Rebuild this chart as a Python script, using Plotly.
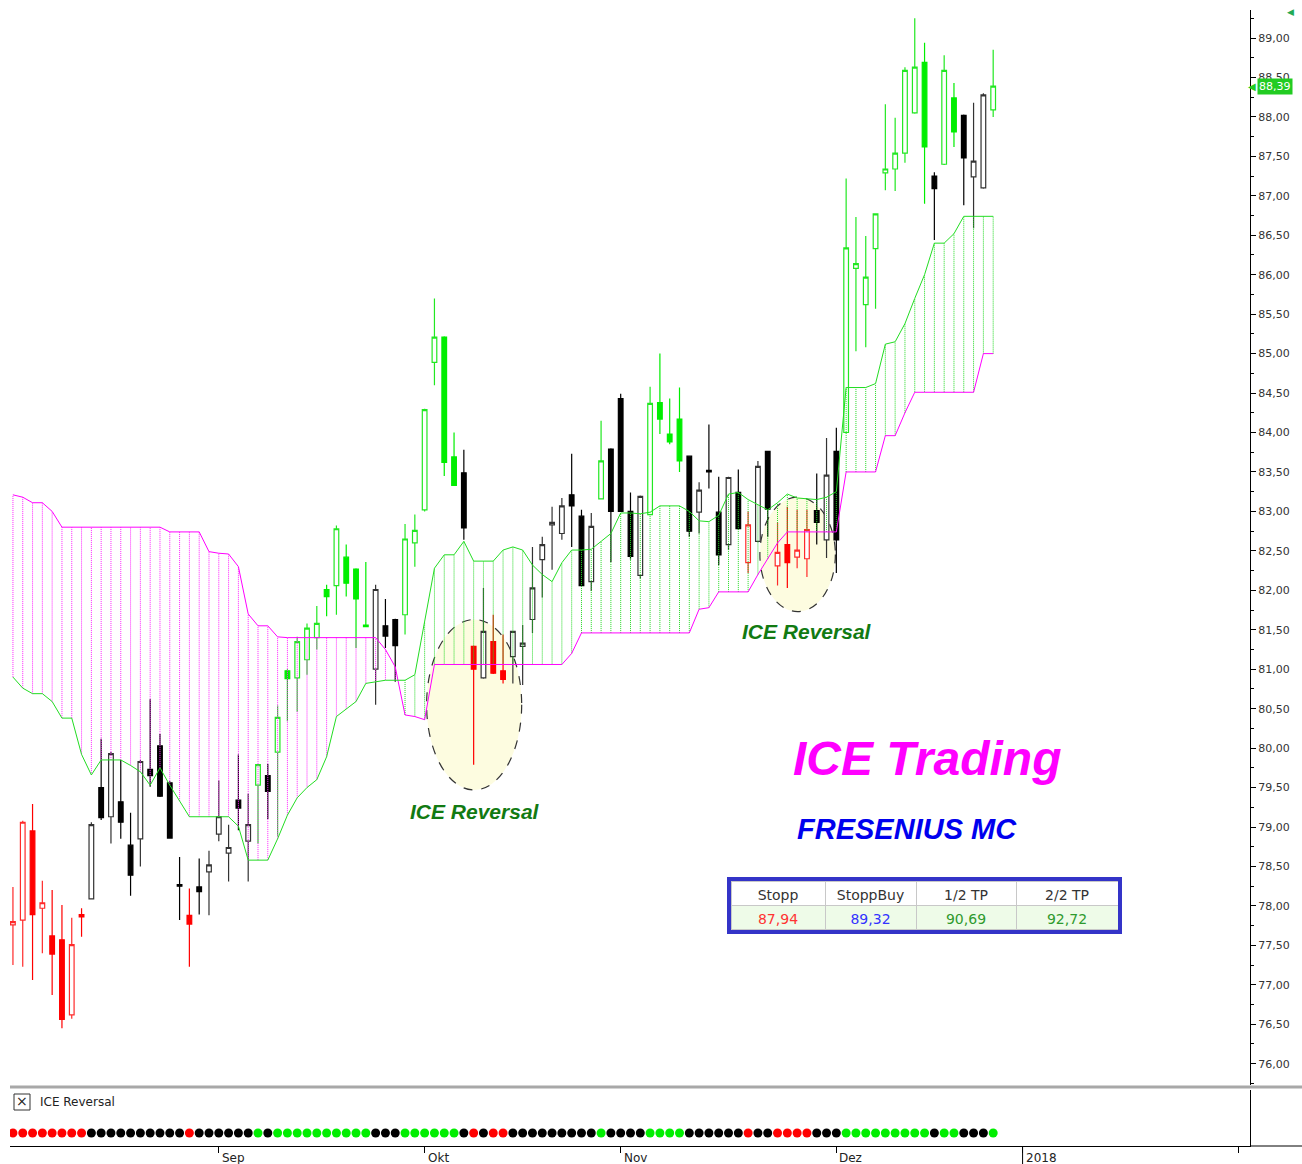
import plotly.graph_objects as go
import pandas as pd

W, H = 1302, 1164

# ---------------- data ----------------
first_day = "2017-08-03"
holidays = ["2017-10-03", "2017-10-31", "2017-12-25", "2017-12-26", "2018-01-01"]

opens = [77.76, 77.82, 78.95, 77.97, 77.62, 77.57, 76.62, 77.89, 78.09, 79.50,
         79.13, 79.32, 78.77, 78.85, 79.73, 80.03, 79.56, 78.27, 77.88, 78.24,
         78.43, 78.91, 78.67, 79.34, 78.82, 79.53, 79.65, 79.95, 80.98, 80.89,
         81.12, 81.40, 82.01, 82.06, 82.42, 82.27, 81.56, 81.00, 81.55, 81.63,
         81.69, 82.60, 83.02, 84.89, 85.21, 83.69, 83.49, 81.29, 80.89, 81.35,
         80.98, 81.16, 81.29, 81.63, 82.39, 82.83, 82.72, 83.21, 82.94, 82.11,
         83.16, 83.79, 84.43, 83.00, 82.19, 82.96, 84.38, 83.98, 84.17, 83.70,
         82.99, 83.52, 82.99, 82.58, 83.24, 82.35, 82.62, 83.76, 82.31, 82.58,
         82.42, 82.40, 83.01, 82.64, 83.76, 84.00, 86.08, 85.62, 86.33, 87.29,
         87.34, 87.54, 88.05, 88.69, 87.25, 87.40, 88.24, 88.02, 87.24, 87.10,
         88.09]
highs = [78.24, 79.08, 79.29, 78.32, 78.20, 78.01, 77.85, 77.97, 79.06, 80.12,
         79.95, 79.85, 79.18, 79.85, 80.62, 80.18, 79.58, 78.62, 78.22, 78.60,
         78.70, 79.59, 79.03, 79.92, 79.42, 79.80, 79.80, 80.54, 81.00, 81.41,
         81.58, 81.80, 82.07, 82.82, 82.58, 82.28, 82.36, 82.07, 81.89, 81.64,
         82.84, 82.96, 84.30, 85.70, 85.22, 84.00, 83.78, 81.30, 82.03, 81.69,
         81.44, 81.48, 81.56, 82.55, 82.68, 83.06, 83.17, 83.73, 83.02, 82.98,
         84.15, 83.80, 84.49, 83.24, 83.20, 84.58, 85.00, 84.43, 84.57, 83.71,
         83.37, 84.10, 83.44, 83.44, 83.53, 83.00, 83.64, 83.77, 82.86, 83.06,
         83.02, 83.02, 83.48, 83.93, 84.06, 87.22, 86.73, 86.49, 86.78, 88.16,
         87.99, 88.63, 89.25, 88.94, 87.30, 88.78, 88.43, 88.03, 88.18, 88.30,
         88.85]
lows = [77.25, 77.23, 77.06, 77.40, 76.87, 76.45, 76.57, 77.61, 78.08, 79.09,
        78.79, 78.85, 78.13, 78.50, 79.51, 79.38, 78.85, 77.82, 77.23, 77.89,
        77.88, 78.82, 78.31, 78.96, 78.31, 78.79, 79.10, 78.89, 80.34, 80.46,
        80.93, 81.25, 81.67, 81.69, 81.92, 81.27, 81.54, 80.55, 81.27, 80.84,
        81.44, 82.30, 83.00, 84.60, 83.45, 83.33, 82.64, 79.79, 80.88, 80.94,
        80.82, 80.82, 80.80, 81.46, 81.91, 82.26, 82.64, 82.55, 82.06, 81.99,
        83.16, 82.36, 83.00, 82.39, 82.15, 82.95, 83.98, 83.85, 83.50, 82.68,
        82.72, 83.29, 82.32, 82.51, 82.77, 82.22, 82.61, 82.68, 82.06, 82.03,
        82.28, 82.17, 82.58, 82.41, 82.22, 83.99, 85.03, 85.08, 85.57, 87.07,
        87.06, 87.42, 88.04, 86.90, 86.44, 87.39, 87.62, 86.88, 86.59, 87.09,
        88.00]
closes = [77.80, 79.06, 77.89, 78.04, 77.39, 76.56, 77.51, 77.86, 79.03, 79.12,
          79.93, 79.06, 78.39, 79.83, 79.65, 79.39, 78.86, 78.25, 77.77, 78.18,
          78.52, 79.13, 78.74, 79.24, 79.03, 79.79, 79.45, 80.39, 80.88, 81.35,
          81.52, 81.58, 81.92, 82.78, 82.09, 81.89, 81.54, 82.01, 81.42, 81.30,
          82.65, 82.76, 84.29, 85.21, 83.62, 83.33, 82.79, 81.00, 81.48, 80.95,
          80.87, 81.48, 81.33, 82.03, 82.58, 82.86, 83.07, 83.07, 82.06, 82.81,
          83.64, 83.00, 83.00, 82.43, 83.19, 84.37, 84.17, 83.88, 83.64, 82.75,
          83.27, 83.50, 82.45, 83.43, 82.78, 82.83, 83.57, 83.03, 82.48, 82.35,
          82.51, 82.77, 82.86, 83.46, 82.64, 86.34, 86.14, 85.97, 86.77, 87.34,
          87.54, 88.59, 88.63, 87.62, 87.09, 88.59, 87.81, 87.48, 87.44, 88.28,
          88.39]

# ICE Reversal signal per bar: r = red, k = black (neutral), g = green
signal = ("rrrrrrrr" "kkkkkkkkkk" "r" "kkkkkk" "g" "k" "gggggggggg" "kkk"
          "gggggg" "k" "r" "k" "rr" "kkkkkkkkk" "g" "kkkk" "gggg" "kkkkkk"
          "r" "kk" "rrrr" "kkk" "ggggggggg" "k" "gg" "kkk" "g")

span_a = [80.90, 80.76, 80.69, 80.69, 80.59, 80.38, 80.38, 79.92, 79.66, 79.85,
          79.85, 79.85, 79.78, 79.70, 79.53, 79.75, 79.53, 79.33, 79.13, 79.13,
          79.13, 79.13, 79.13, 79.01, 78.58, 78.58, 78.58, 78.85, 79.15, 79.37,
          79.50, 79.60, 79.89, 80.40, 80.50, 80.59, 80.82, 80.84, 80.86, 80.86,
          80.86, 80.93, 81.60, 82.28, 82.45, 82.45, 82.62, 82.37, 82.37, 82.37,
          82.51, 82.55, 82.51, 82.32, 82.20, 82.11, 82.35, 82.51, 82.51, 82.52,
          82.62, 82.72, 82.98, 82.98, 82.97, 82.99, 83.07, 83.07, 83.07, 83.00,
          82.88, 82.87, 82.95, 83.22, 83.24, 83.15, 83.08, 83.02, 83.11, 83.22,
          83.17, 83.16, 83.15, 83.18, 83.25, 84.57, 84.57, 84.57, 84.62, 85.12,
          85.15, 85.38, 85.70, 86.00, 86.40, 86.40, 86.52, 86.74, 86.74, 86.74,
          86.74]
span_b = [83.21, 83.18, 83.11, 83.11, 83.00, 82.80, 82.80, 82.80, 82.80, 82.80,
          82.80, 82.80, 82.80, 82.80, 82.80, 82.80, 82.74, 82.74, 82.74, 82.74,
          82.49, 82.47, 82.46, 82.30, 81.70, 81.55, 81.55, 81.41, 81.40, 81.40,
          81.40, 81.40, 81.40, 81.40, 81.40, 81.40, 81.40, 81.40, 81.25, 81.03,
          80.42, 80.40, 80.36, 81.06, 81.06, 81.06, 81.06, 81.06, 81.06, 81.06,
          81.06, 81.06, 81.06, 81.06, 81.06, 81.06, 81.06, 81.20, 81.46, 81.46,
          81.46, 81.46, 81.46, 81.46, 81.46, 81.46, 81.46, 81.46, 81.46, 81.46,
          81.76, 81.78, 81.98, 81.98, 81.98, 81.98, 82.20, 82.40, 82.60, 82.74,
          82.74, 82.74, 82.74, 82.74, 82.74, 83.50, 83.50, 83.50, 83.50, 83.96,
          83.96, 84.25, 84.51, 84.51, 84.51, 84.51, 84.51, 84.51, 84.51, 85.00,
          85.00]

month_starts = ["2017-09-01", "2017-10-02", "2017-11-01", "2017-12-01", "2018-01-02", "2018-02-01"]
month_labels = ["Sep", "Okt", "Nov", "Dez", "2018", ""]
year_start = "2018-01-02"

table_header = ["Stopp", "StoppBuy", "1/2 TP", "2/2 TP"]
table_values = ["87,94", "89,32", "90,69", "92,72"]
last_price = 88.39

# ---------------- helpers ----------------
n = len(closes)
assert len(signal) == n == len(opens) == len(highs) == len(lows) == len(span_a) == len(span_b)

days = pd.bdate_range(first_day, "2018-03-31")
days = [d for d in days if d.strftime("%Y-%m-%d") not in holidays]
day_index = {d.strftime("%Y-%m-%d"): i for i, d in enumerate(days)}
xs = list(range(n))
month_idx = [day_index[m] for m in month_starts]


def px(x):
    return x / W


def py(y):
    return 1 - y / H


X_DOMAIN = [px(10), px(1250)]
X_RANGE = [-0.3, 126.2]

fig = go.Figure()

# ---------------- cloud hatching ----------------
hx_m, hy_m, hx_g, hy_g = [], [], [], []
for i in xs:
    a, b = span_a[i], span_b[i]
    if b > a:
        hx_m += [i, i, None]
        hy_m += [a, b, None]
    else:
        hx_g += [i, i, None]
        hy_g += [b, a, None]

fig.add_trace(go.Scatter(x=hx_m, y=hy_m, mode="lines",
                         line=dict(color="#ff22ff", width=1, dash="1px,1px"),
                         hoverinfo="skip"))
fig.add_trace(go.Scatter(x=hx_g, y=hy_g, mode="lines",
                         line=dict(color="#22d822", width=1, dash="1px,1px"),
                         hoverinfo="skip"))

fig.add_trace(go.Scatter(x=xs, y=span_b, mode="lines",
                         line=dict(color="#ff00ff", width=1), hoverinfo="skip"))
fig.add_trace(go.Scatter(x=xs, y=span_a, mode="lines",
                         line=dict(color="#22dd22", width=1), hoverinfo="skip"))

# ---------------- candles ----------------
styles = {
    "r": dict(up="#ff2a2a", down="#ff0000"),
    "k": dict(up="#333333", down="#000000"),
    "g": dict(up="#22e822", down="#00ee00"),
}
for code, st in styles.items():
    idx = [i for i in xs if signal[i] == code]
    fig.add_trace(go.Candlestick(
        x=idx,
        open=[opens[i] for i in idx], high=[highs[i] for i in idx],
        low=[lows[i] for i in idx], close=[closes[i] for i in idx],
        increasing=dict(line=dict(color=st["up"], width=1.2), fillcolor="white"),
        decreasing=dict(line=dict(color=st["down"], width=1.2), fillcolor=st["down"]),
        whiskerwidth=0, hoverinfo="skip", showlegend=False,
    ))

# ---------------- lower panel: ICE Reversal dots ----------------
dot_colors = {"r": "#ff0000", "k": "#000000", "g": "#00ee00"}
fig.add_trace(go.Scatter(
    x=xs, y=[0] * n, mode="markers", xaxis="x2", yaxis="y2",
    marker=dict(size=9, color=[dot_colors[c] for c in signal], line=dict(width=0)),
    hoverinfo="skip"))

# ---------------- table ----------------
fig.add_trace(go.Table(
    domain=dict(x=[px(731), px(1118)], y=[py(932), py(881)]),
    columnwidth=[94, 91, 100, 102],
    header=dict(values=table_header, fill_color="white", line_color="#c8c8c8",
                font=dict(family="DejaVu Sans", size=14, color="#333333"),
                height=24, align="center"),
    cells=dict(values=[[v] for v in table_values], fill_color="#eefbe8",
               line_color="#c8c8c8", height=24, align="center",
               font=dict(family="DejaVu Sans", size=14,
                         color=[["#ff3333"], ["#3333ff"], ["#2e9a2e"], ["#2e9a2e"]])),
))

# ---------------- shapes ----------------
shapes = [
    dict(type="circle", xref="x", yref="y", x0=42.2, x1=51.9, y0=79.47, y1=81.63,
         fillcolor="#fdfce0", line=dict(color="#333333", width=1.2, dash="dash"), layer="below"),
    dict(type="circle", xref="x", yref="y", x0=76.2, x1=83.9, y0=81.73, y1=83.18,
         fillcolor="#fdfce0", line=dict(color="#333333", width=1.2, dash="dash"), layer="below"),
    dict(type="line", xref="paper", yref="paper", x0=px(10), x1=1, y0=py(1087), y1=py(1087),
         line=dict(color="#a8a8a8", width=3)),
    dict(type="line", xref="paper", yref="paper", x0=px(1250), x1=1, y0=py(1146), y1=py(1146),
         line=dict(color="#000000", width=1)),
    dict(type="line", xref="x2", yref="paper", x0=day_index[year_start], x1=day_index[year_start],
         y0=py(1146), y1=0, line=dict(color="#000000", width=1)),
    dict(type="rect", xref="paper", yref="paper", x0=px(729), x1=px(1120), y0=py(932), y1=py(879),
         line=dict(color="#3434c8", width=4), fillcolor="rgba(0,0,0,0)", layer="above"),
    # checkbox frame of the lower panel title
    dict(type="rect", xref="paper", yref="paper", x0=px(14), x1=px(30), y0=py(1110), y1=py(1094),
         line=dict(color="#333333", width=1), fillcolor="white"),
]

# ---------------- annotations ----------------
ann = []


def text_at(cx, cy, text, font, xanchor="center", **kw):
    d = dict(x=px(cx), y=py(cy), xref="paper", yref="paper", showarrow=False,
             xanchor=xanchor, yanchor="middle", text=text, font=font)
    d.update(kw)
    ann.append(d)


for cx, cy in [(475, 811), (807, 631)]:
    text_at(cx, cy, "<b><i>ICE Reversal</i></b>",
            dict(family="Liberation Sans", size=21, color="#127a12"))
text_at(927, 758, "<b><i>ICE Trading</i></b>",
        dict(family="Liberation Sans", size=48, color="#ff00ff"))
text_at(907, 829, "<b><i>FRESENIUS MC</i></b>",
        dict(family="Liberation Sans", size=29, color="#0000ee"))
# lower panel title
text_at(22, 1101, "×", dict(family="DejaVu Sans", size=14, color="#222222"))
text_at(38, 1102, "ICE Reversal", dict(family="DejaVu Sans", size=12, color="#222222"),
        xanchor="left")
# month labels
for mi, lab in zip(month_idx, month_labels):
    if lab:
        ann.append(dict(x=mi, y=py(1158), xref="x2", yref="paper", showarrow=False,
                        xanchor="left", yanchor="middle", xshift=1, text=lab,
                        font=dict(family="DejaVu Sans", size=12, color="#222222")))
# last price tag
ann.append(dict(x=px(1257), y=last_price, xref="paper", yref="y", showarrow=False,
                xanchor="left", yanchor="middle", text=f"{last_price:.2f}".replace(".", ","),
                bgcolor="#22cc22", borderpad=1,
                font=dict(family="DejaVu Sans", size=11, color="white")))
ann.append(dict(x=px(1258), y=last_price, xref="paper", yref="y", showarrow=False,
                xanchor="right", yanchor="middle", text="◀",
                font=dict(family="DejaVu Sans", size=10, color="#22cc22")))
text_at(1290, 12, "◀", dict(family="DejaVu Sans", size=9, color="#22aa55"))

fig.update_layout(
    width=W, height=H, margin=dict(l=0, r=0, t=0, b=0),
    paper_bgcolor="white", plot_bgcolor="white",
    showlegend=False, hovermode=False, separators=",.",
    boxgap=0.32,
    shapes=shapes, annotations=ann,
    xaxis=dict(domain=X_DOMAIN, range=X_RANGE, anchor="y", showticklabels=False,
               showgrid=False, zeroline=False, showline=False, ticks="",
               rangeslider=dict(visible=False)),
    yaxis=dict(domain=[py(1085), py(10)], range=[75.73, 89.355], anchor="x", side="right",
               showline=True, linecolor="#000000", linewidth=1,
               ticks="outside", ticklen=5, tickcolor="#000000", tick0=76, dtick=0.5,
               tickformat=".2f", showgrid=False, zeroline=False,
               tickfont=dict(family="DejaVu Sans", size=11, color="#333333"),
               minor=dict(ticks="outside", ticklen=3, tickcolor="#000000", dtick=0.25, tick0=76)),
    xaxis2=dict(domain=X_DOMAIN, range=X_RANGE, anchor="y2", showticklabels=False,
                showgrid=False, zeroline=False, showline=True, linecolor="#000000",
                ticks="outside", ticklen=6, tickcolor="#000000",
                tickmode="array", tickvals=month_idx),
    yaxis2=dict(domain=[py(1146), py(1090)], range=[-1, 3.31], anchor="x2", side="right",
                showline=True, linecolor="#000000", showticklabels=False, ticks="",
                showgrid=False, zeroline=False),
)

fig.write_html("out.html")
